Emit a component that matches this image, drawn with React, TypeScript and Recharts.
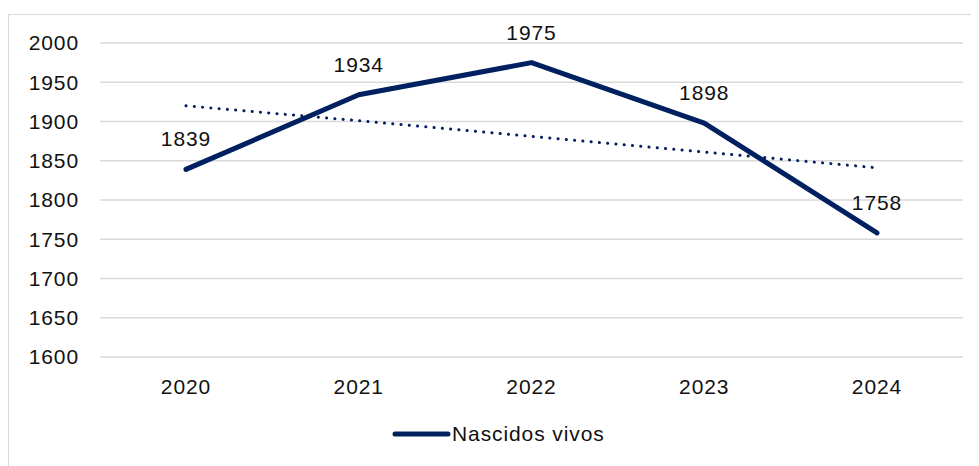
import { CartesianGrid, LabelList, Legend, Line, LineChart, XAxis, YAxis } from "recharts";

// Nascidos vivos por ano, com linha de tendência (linear)
const years = ["2020", "2021", "2022", "2023", "2024"];
const births = [1839, 1934, 1975, 1898, 1758];
const trend = [1920, 1901, 1881, 1861, 1841];
const yTicks = [1600, 1650, 1700, 1750, 1800, 1850, 1900, 1950, 2000];

const NAVY = "#002060";
const FONT = "'Liberation Sans', Arial, sans-serif";

const data = years.map((year, i) => ({ year, births: births[i], trend: trend[i] }));

function LegendContent() {
  return (
    <div style={{ display: "flex", alignItems: "center", fontFamily: FONT }}>
      <svg width={60} height={10}>
        <line x1={3} y1={5} x2={56} y2={5} stroke={NAVY} strokeWidth={5} strokeLinecap="round" />
      </svg>
      <span style={{ fontSize: 21, letterSpacing: 0.9, color: "#111" }}>Nascidos vivos</span>
    </div>
  );
}

export default function App() {
  return (
    <>
      <style>{"html,body{overflow:hidden;}"}</style>
      <div
        style={{
          marginTop: 6,
          width: 971,
          height: 452,
          borderLeft: "1px solid #d9d9d9",
          borderTop: "1px solid #d9d9d9",
          boxSizing: "border-box",
          background: "#fff",
        }}
      >
        <LineChart
          width={970}
          height={451}
          data={data}
          margin={{ top: 28, right: 16, bottom: 55, left: 0 }}
        >
          <CartesianGrid vertical={false} stroke="#d9d9d9" strokeWidth={1.4} />
          <XAxis
            dataKey="year"
            axisLine={false}
            tickLine={false}
            tickSize={0}
            tickMargin={22}
            padding={{ left: 86, right: 86 }}
            tick={{ fontSize: 21, fill: "#111", fontFamily: FONT, letterSpacing: 0.9 }}
          />
          <YAxis
            width={91}
            domain={[1600, 2000]}
            ticks={yTicks}
            interval={0}
            axisLine={false}
            tickLine={false}
            tickSize={0}
            tickMargin={21}
            tick={{ fontSize: 21, fill: "#111", fontFamily: FONT, letterSpacing: 0.9 }}
          />
          <Legend
            content={<LegendContent />}
            wrapperStyle={{ top: 407, left: 383, width: 260 }}
          />
          <Line
            dataKey="trend"
            stroke={NAVY}
            strokeWidth={3}
            strokeDasharray="0.1 8.2"
            strokeLinecap="round"
            dot={false}
            activeDot={false}
            legendType="none"
            isAnimationActive={false}
          />
          <Line
            dataKey="births"
            name="Nascidos vivos"
            stroke={NAVY}
            strokeWidth={5}
            strokeLinecap="round"
            strokeLinejoin="round"
            dot={false}
            isAnimationActive={false}
          >
            <LabelList
              dataKey="births"
              position="top"
              offset={23}
              style={{ fontSize: 21, fill: "#111", fontFamily: FONT, letterSpacing: 0.9 }}
            />
          </Line>
        </LineChart>
      </div>
    </>
  );
}
